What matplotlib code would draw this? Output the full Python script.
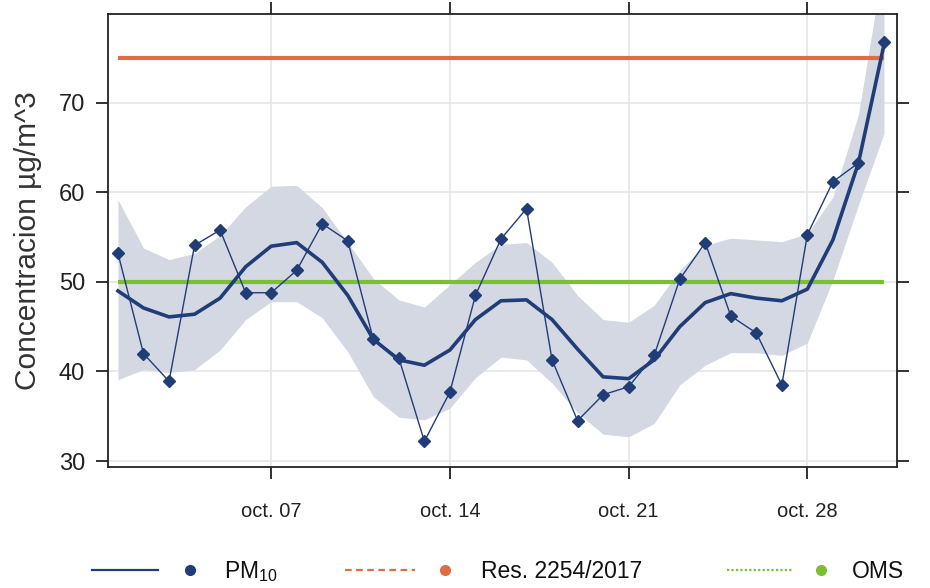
import matplotlib
matplotlib.use("Agg")
import matplotlib.pyplot as plt
from matplotlib.lines import Line2D
import numpy as np

plt.rcParams['font.family'] = ['Liberation Sans', 'DejaVu Sans']
plt.rcParams['mathtext.fontset'] = 'custom'
plt.rcParams['mathtext.rm'] = 'Liberation Sans'

# ---- data ----
days = list(range(1, 32))  # October 1..31
pm10 = [53.2, 42.0, 38.9, 54.1, 55.8, 48.8, 48.8, 51.3, 56.5, 54.6,
        43.6, 41.5, 32.2, 37.7, 48.5, 54.8, 58.2, 41.3, 34.5, 37.4,
        38.3, 41.8, 50.3, 54.4, 46.2, 44.3, 38.5, 55.3, 61.2, 63.3, 76.8]
smooth = [49.0, 47.1, 46.1, 46.4, 48.2, 51.7, 54.0, 54.4, 52.2, 48.5,
          43.6, 41.3, 40.7, 42.4, 45.8, 47.9, 48.0, 45.8, 42.5, 39.4,
          39.2, 41.3, 45.0, 47.7, 48.7, 48.2, 47.9, 49.2, 54.7, 63.3, 76.5]
upper = [59.2, 53.8, 52.5, 53.2, 55.2, 58.4, 60.7, 60.8, 58.3, 54.4,
         50.4, 48.0, 47.2, 49.7, 52.2, 54.2, 54.4, 52.2, 48.5, 45.8,
         45.5, 47.4, 51.3, 54.1, 54.9, 54.7, 54.5, 55.4, 59.5, 68.7, 86.0]
lower = [39.1, 40.2, 39.9, 40.2, 42.4, 45.8, 47.8, 47.8, 46.0, 42.2,
         37.2, 34.9, 34.6, 35.9, 39.3, 41.6, 41.3, 38.7, 35.4, 33.0,
         32.7, 34.2, 38.5, 40.7, 42.1, 42.1, 41.8, 43.2, 50.2, 58.6, 66.6]
res_limit = 75
oms_limit = 50
xtick_days = [7, 14, 21, 28]
xtick_labels = ['oct. 07', 'oct. 14', 'oct. 21', 'oct. 28']
ytick_vals = [30, 40, 50, 60, 70]
legend_labels = [r'PM$_{\mathregular{10}}$', 'Res. 2254/2017', 'OMS']

navy = '#213d78'
band = '#d3d8e3'
orange = '#e06c45'
green = '#7dbf33'

W, H = 930, 588
fig = plt.figure(figsize=(W / 100, H / 100), dpi=100)
ax = fig.add_axes([108 / W, 1 - 467 / H, (897 - 108) / W, (467 - 14) / H])

ax.fill_between(days, lower, upper, color=band, linewidth=0, zorder=1)
ax.plot([days[0], days[-1]], [res_limit, res_limit], color=orange, lw=3, zorder=2,
        solid_capstyle='butt')
ax.plot([days[0], days[-1]], [oms_limit, oms_limit], color=green, lw=3, zorder=2,
        solid_capstyle='butt')
ax.plot(days, pm10, color=navy, lw=1.0, marker='D', ms=6.3, zorder=3)
ax.plot(days, smooth, color=navy, lw=2.6, zorder=4, solid_joinstyle='round')

ax.set_xlim(0.61, 31.51)
ax.set_ylim(29.33, 79.94)
ax.set_xticks(xtick_days)
ax.set_xticklabels(xtick_labels)
ax.set_yticks(ytick_vals)
ax.set_yticklabels([str(v) for v in ytick_vals])
ax.grid(True, color='#e6e6e6', lw=1.2, zorder=0)
ax.set_axisbelow(True)

for s in ax.spines.values():
    s.set_color('#222222')
    s.set_linewidth(1.3)
ax.tick_params(axis='both', which='both', direction='out', length=8.5, width=1.3,
               color='#222222', top=True, right=True, labeltop=False, labelright=False)
ax.tick_params(axis='x', labelsize=14.5, pad=17, labelcolor='#222222')
ax.tick_params(axis='y', labelsize=17, pad=8, labelcolor='#222222')

ax.set_ylabel('Concentracion µg/m^3', fontsize=21.5, color='#333333')
ax.yaxis.set_label_coords(-0.084, 0.5)

# ---- legend (manual, bottom) ----
ly = 1 - 570 / H
items = [
    (92, 158, 190, 224, navy, '-', legend_labels[0]),
    (345, 415, 445, 481, orange, (0, (3, 2)), legend_labels[1]),
    (727, 793, 821, 852, green, (0, (1, 1)), legend_labels[2]),
]
for x0, x1, xm, xt, c, ls, lab in items:
    fig.add_artist(Line2D([x0 / W, x1 / W], [ly, ly], transform=fig.transFigure,
                          color=c, lw=1.6, linestyle=ls))
    fig.add_artist(Line2D([xm / W], [ly], transform=fig.transFigure, color=c,
                          marker='o', ms=7, linestyle='none'))
    fig.text(xt / W, 1 - 572 / H, lab, fontsize=16.5, color='#111111',
             va='center', ha='left')

fig.savefig('out.png', dpi=100, facecolor='white')
